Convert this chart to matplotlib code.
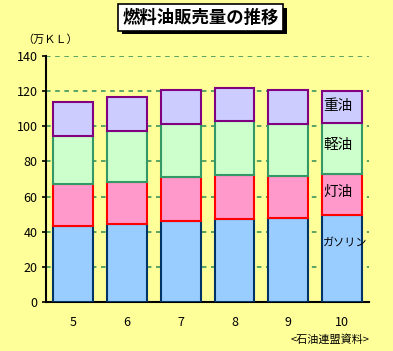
import matplotlib
matplotlib.use("Agg")
import matplotlib.pyplot as plt
import matplotlib.patheffects as pe
import numpy as np

plt.rcParams['font.family'] = ['Noto Sans CJK JP', 'DejaVu Sans']

years = ['5', '6', '7', '8', '9', '10']
gasoline = [43.3, 44.4, 46.1, 47.1, 47.8, 49.3]
kerosene = [23.8, 23.8, 24.8, 24.9, 23.8, 23.3]
light_oil = [27.2, 29.2, 30.4, 30.7, 29.7, 29.5]
heavy_oil = [19.7, 19.4, 19.5, 19.2, 19.5, 18.1]
names = ['ガソリン', '灯油', '軽油', '重油']

series = [gasoline, kerosene, light_oil, heavy_oil]
faces = ['#99CCFF', '#FF99CC', '#CCFFCC', '#CCCCFF']
edges = ['#003366', '#FF0000', '#339966', '#800080']

bg = '#FFFF99'
fig = plt.figure(figsize=(3.93, 3.51), dpi=100, facecolor=bg)
ax = fig.add_axes([0.117, 0.139, 0.822, 0.702])
ax.set_facecolor(bg)

x = np.arange(len(years))
bottom = np.zeros(len(years))
for vals, fc, ec in zip(series, faces, edges):
    ax.bar(x, vals, width=0.74, bottom=bottom, color=fc, edgecolor=ec,
           linewidth=1.5, zorder=3)
    bottom = bottom + np.array(vals)

ax.set_xlim(-0.5, 5.5)
ax.set_ylim(0, 140)
ax.set_yticks(range(0, 141, 20))
ax.set_xticks(x)
ax.set_xticklabels(years)
ax.yaxis.grid(True, color='#2E8B57', linestyle=(0, (3, 3)), linewidth=1.1, zorder=1)
ax.set_axisbelow(True)
for s in ['top', 'right']:
    ax.spines[s].set_visible(False)
ax.spines['left'].set_linewidth(1.5)
ax.spines['bottom'].set_linewidth(1.5)
ax.tick_params(axis='y', length=3, width=1.2, labelsize=9, pad=3)
ax.tick_params(axis='x', length=0, labelsize=9, pad=10)

# series labels inside the last bar
cum = np.cumsum([s[-1] for s in series])
lab_y = [cum[0] - 15.7, cum[1] - 10.0, cum[2] - 12.9, cum[3] - 8.9]
sizes = [8, 10.5, 10.5, 10.5]
for nm, yy, fs in zip(names, lab_y, sizes):
    ax.text(5 - 0.35, yy, nm, ha='left', va='center', fontsize=fs, zorder=4)

t = fig.text(0.511, 0.95, '燃料油販売量の推移', ha='center', va='center',
             fontsize=12.5, fontweight='bold',
             bbox=dict(boxstyle='square,pad=0.25', fc='white', ec='black', lw=1.2))
t.get_bbox_patch().set_path_effects([
    pe.SimplePatchShadow(offset=(2.5, -2.5), shadow_rgbFace='black', alpha=1),
    pe.Normal()])

fig.text(0.056, 0.886, '（万ＫＬ）', ha='left', va='center', fontsize=8)
fig.text(0.94, 0.034, '<石油連盟資料>', ha='right', va='center', fontsize=8)

fig.savefig('out.png', dpi=100, facecolor=bg)
